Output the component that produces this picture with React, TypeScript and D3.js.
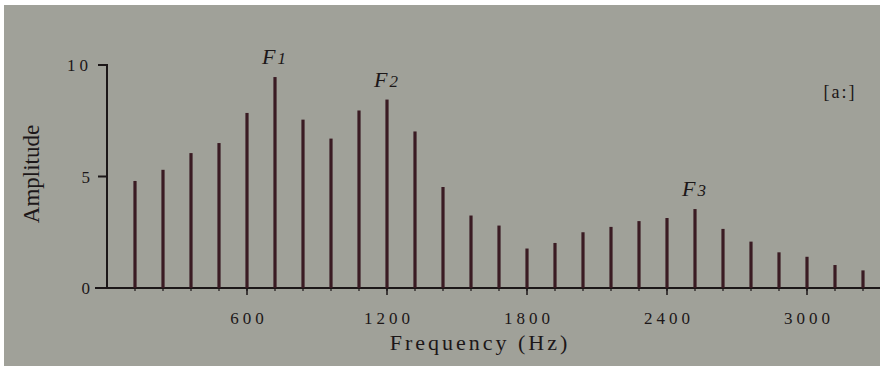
import React from "react";
import * as d3 from "d3";

const harmonicsHz: number[] = [120, 240, 360, 480, 600, 720, 840, 960, 1080, 1200, 1320, 1440, 1560, 1680, 1800, 1920, 2040, 2160, 2280, 2400, 2520, 2640, 2760, 2880, 3000, 3120, 3240];
const amplitudes: number[] = [4.8, 5.3, 6.05, 6.5, 7.85, 9.46, 7.55, 6.7, 7.96, 8.45, 7.02, 4.53, 3.25, 2.8, 1.77, 2.02, 2.5, 2.74, 3.0, 3.14, 3.54, 2.65, 2.08, 1.6, 1.4, 1.03, 0.79];
const xTicks: number[] = [600, 1200, 1800, 2400, 3000];
const xTickLabels: string[] = ["600", "1200", "1800", "2400", "3000"];
const yTicks: number[] = [0, 5, 10];
const yTickLabels: string[] = ["0", "5", "10"];
const formantLabels: { hz: number; name: string; sub: string }[] = [
  { hz: 720, name: "F", sub: "1" },
  { hz: 1200, name: "F", sub: "2" },
  { hz: 2520, name: "F", sub: "3" },
];

const W = 880;
const H = 367;

export default function App() {
  const x = d3.scaleLinear().domain([0, 3000]).range([107, 807]);
  const y = d3.scaleLinear().domain([0, 10]).range([288, 65]);
  const bar = "#3a1b23";
  const ink = "#1c1718";
  const font = "'Liberation Serif', 'DejaVu Serif', serif";
  const minor = d3.range(120, 3300, 120);
  return (
    <svg width={W} height={H} style={{ position: "absolute", left: 0, top: 0 }}>
      <rect x={0} y={0} width={W} height={H} fill="#ffffff" />
      <rect x={4} y={5} width={W - 4} height={H - 6} fill="#a0a199" />
      {/* axes */}
      <line x1={x(0)} x2={x(0)} y1={y(10) - 1} y2={y(0)} stroke={ink} strokeWidth={2} />
      <line x1={95} x2={W} y1={y(0)} y2={y(0)} stroke={ink} strokeWidth={2} />
      {yTicks.filter((t) => t > 0).map((t) => (
        <line key={"yt" + t} x1={98} x2={x(0)} y1={y(t)} y2={y(t)} stroke={ink} strokeWidth={2} />
      ))}
      {minor.map((t) => (
        <line key={"mt" + t} x1={x(t)} x2={x(t)} y1={y(0)} y2={y(0) + 3} stroke={ink} strokeWidth={1.2} />
      ))}
      {xTicks.map((t) => (
        <line key={"xt" + t} x1={x(t)} x2={x(t)} y1={y(0)} y2={y(0) + 7} stroke={ink} strokeWidth={1.5} />
      ))}
      {/* bars */}
      {harmonicsHz.map((hz, i) => (
        <line key={"b" + hz} x1={x(hz)} x2={x(hz)} y1={y(0)} y2={y(amplitudes[i])} stroke={bar} strokeWidth={3.2} />
      ))}
      {/* tick labels */}
      {xTicks.map((t, i) => (
        <text key={"xl" + t} x={x(t) + 2} y={324} textAnchor="middle" fontFamily={font} fontSize={17} fill={ink} letterSpacing={4}>
          {xTickLabels[i]}
        </text>
      ))}
      {yTicks.map((t, i) => (
        <text key={"yl" + t} x={t === 10 ? 92 : 94} y={y(t) + 6} textAnchor="end" fontFamily={font} fontSize={17} fill={ink} letterSpacing={4}>
          {yTickLabels[i]}
        </text>
      ))}
      {/* axis titles */}
      <text x={480} y={350} textAnchor="middle" fontFamily={font} fontSize={22} fill={ink} letterSpacing={3}>
        Frequency (Hz)
      </text>
      <text transform="translate(39,174) rotate(-90)" textAnchor="middle" fontFamily={font} fontSize={23} fill={ink}>
        Amplitude
      </text>
      {/* formant labels */}
      {formantLabels.map((f, i) => {
        const ai = harmonicsHz.indexOf(f.hz);
        const ty = y(amplitudes[ai]) - 13;
        return (
          <text key={"f" + i} x={x(f.hz) - 13} y={ty} fontFamily={font} fontStyle="italic" fontSize={22} fill={ink} letterSpacing={2}>
            {f.name}
            <tspan fontSize={17}>{f.sub}</tspan>
          </text>
        );
      })}
      <text x={840} y={98} textAnchor="middle" fontFamily={font} fontSize={18} fill={ink} letterSpacing={2}>
        [a:]
      </text>
    </svg>
  );
}
